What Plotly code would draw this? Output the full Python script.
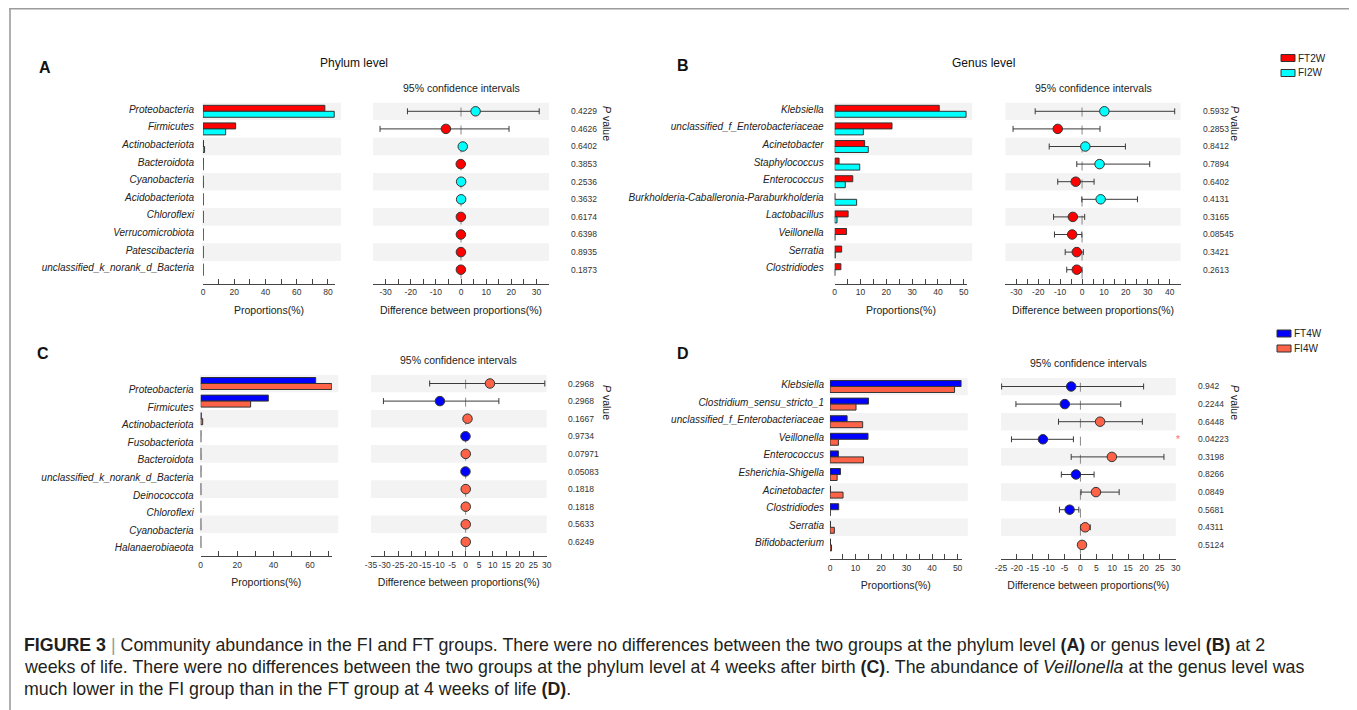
import plotly.graph_objects as go

# page offset: the html body has an 8px margin, so the figure is drawn 8px in and down
OX, OY = 8, 8
W, H = 1357 - OX, 710 - OY

# ---------------- data ----------------
phylum_A = ["Proteobacteria", "Firmicutes", "Actinobacteriota", "Bacteroidota", "Cyanobacteria",
            "Acidobacteriota", "Chloroflexi", "Verrucomicrobiota", "Patescibacteria",
            "unclassified_k_norank_d_Bacteria"]
ft2w_A = [78.0, 20.9, 0.3, 0.1, 0.02, 0.01, 0.03, 0.02, 0.01, 0.02]
fi2w_A = [84.0, 14.5, 1.0, 0.05, 0.1, 0.05, 0.01, 0.01, 0.01, 0.01]
diff_A = [5.8, -6.0, 0.7, -0.1, 0.05, 0.05, -0.05, -0.05, -0.03, -0.05]
lo_A = [-21.3, -32.2, 0.0, -0.25, -0.1, -0.1, -0.15, -0.15, -0.15, -0.15]
hi_A = [31.1, 19.1, 1.4, 0.05, 0.2, 0.2, 0.05, 0.05, 0.1, 0.05]
p_A = ["0.4229", "0.4626", "0.6402", "0.3853", "0.2536", "0.3632", "0.6174", "0.6398", "0.8935", "0.1873"]

genus_B = ["Klebsiella", "unclassified_f_Enterobacteriaceae", "Acinetobacter", "Staphylococcus",
           "Enterococcus", "Burkholderia-Caballeronia-Paraburkholderia", "Lactobacillus",
           "Veillonella", "Serratia", "Clostridiodes"]
ft2w_B = [40.5, 22.2, 11.6, 1.7, 7.0, 0.1, 5.2, 4.6, 2.7, 2.4]
fi2w_B = [50.9, 11.1, 13.0, 9.7, 4.1, 8.5, 0.9, 0.1, 0.2, 0.05]
diff_B = [10.2, -11.1, 1.5, 8.0, -2.9, 8.5, -4.2, -4.5, -2.4, -2.4]
lo_B = [-21.4, -31.5, -15.0, -2.4, -11.1, -0.1, -13.0, -12.6, -7.7, -7.0]
hi_B = [42.3, 8.2, 19.8, 30.9, 5.5, 25.3, 1.2, -0.1, 0.6, 0.0]
p_B = ["0.5932", "0.2853", "0.8412", "0.7894", "0.6402", "0.4131", "0.3165", "0.08545", "0.3421", "0.2613"]

phylum_C = ["Proteobacteria", "Firmicutes", "Actinobacteriota", "Fusobacteriota", "Bacteroidota",
            "unclassified_k_norank_d_Bacteria", "Deinococcota", "Chloroflexi", "Cyanobacteria",
            "Halanaerobiaeota"]
ft4w_C = [63.1, 37.1, 0.3, 0.1, 0.05, 0.1, 0.02, 0.02, 0.01, 0.01]
fi4w_C = [71.9, 27.4, 1.1, 0.05, 0.1, 0.05, 0.05, 0.05, 0.05, 0.05]
diff_C = [9.0, -9.5, 0.7, -0.05, 0.05, -0.05, 0.05, 0.05, 0.05, 0.05]
lo_C = [-13.3, -30.4, 0.0, -0.2, -0.1, -0.2, -0.05, -0.05, -0.05, -0.05]
hi_C = [29.3, 12.3, 1.5, 0.1, 0.2, 0.05, 0.15, 0.15, 0.15, 0.15]
p_C = ["0.2968", "0.2968", "0.1667", "0.9734", "0.07971", "0.05083", "0.1818", "0.1818", "0.5633", "0.6249"]

genus_D = ["Klebsiella", "Clostridium_sensu_stricto_1", "unclassified_f_Enterobacteriaceae",
           "Veillonella", "Enterococcus", "Esherichia-Shigella", "Acinetobacter", "Clostridiodes",
           "Serratia", "Bifidobacterium"]
ft4w_D = [51.4, 15.1, 6.7, 14.9, 3.3, 4.1, 0.2, 3.4, 0.2, 0.2]
fi4w_D = [48.8, 10.2, 12.8, 3.3, 13.1, 2.8, 5.1, 0.1, 1.7, 0.6]
diff_D = [-2.9, -4.9, 6.2, -11.8, 9.9, -1.4, 4.9, -3.4, 1.5, 0.5]
lo_D = [-24.8, -20.3, -6.9, -21.7, -2.9, -6.0, 0.2, -6.6, 0.1, 0.0]
hi_D = [19.9, 12.7, 19.5, -2.2, 26.3, 4.3, 12.2, -0.5, 3.1, 1.0]
p_D = ["0.942", "0.2244", "0.6448", "0.04223", "0.3198", "0.8266", "0.0849", "0.5681", "0.4311", "0.5124"]

# axis ticks
bar_ticks_A = [0, 10, 20, 30, 40, 50, 60, 70, 80]
bar_labels_A = ["0", "", "20", "", "40", "", "60", "", "80"]
bar_ticks_B = [0, 5, 10, 15, 20, 25, 30, 35, 40, 45, 50]
bar_labels_B = ["0", "", "10", "", "20", "", "30", "", "40", "", "50"]
bar_ticks_C = [0, 10, 20, 30, 40, 50, 60, 70]
bar_labels_C = ["0", "", "20", "", "40", "", "60", ""]
bar_ticks_D = [0, 5, 10, 15, 20, 25, 30, 35, 40, 45, 50]
bar_labels_D = ["0", "", "10", "", "20", "", "30", "", "40", "", "50"]
ci_ticks_A = [-35, -30, -25, -20, -15, -10, -5, 0, 5, 10, 15, 20, 25, 30, 35]
ci_labels_A = ["", "-30", "", "-20", "", "-10", "", "0", "", "10", "", "20", "", "30", ""]
ci_ticks_B = [-35, -30, -25, -20, -15, -10, -5, 0, 5, 10, 15, 20, 25, 30, 35, 40, 45]
ci_labels_B = ["", "-30", "", "-20", "", "-10", "", "0", "", "10", "", "20", "", "30", "", "40", ""]
ci_ticks_C = [-35, -30, -25, -20, -15, -10, -5, 0, 5, 10, 15, 20, 25, 30]
ci_labels_C = [str(v) for v in ci_ticks_C]
ci_ticks_D = [-25, -20, -15, -10, -5, 0, 5, 10, 15, 20, 25, 30]
ci_labels_D = [str(v) for v in ci_ticks_D]

# ---------------- style ----------------
FONT = "Liberation Sans, Arial, sans-serif"
RED, CYAN, BLUE, ORANGE = "#FF0000", "#00FFFF", "#0000FF", "#FF6347"
EDGE = "#333333"
BAND = "#F3F3F3"
AXC = "#444444"


def fx(p):
    return (p - OX) / W


def fy(p):
    return 1 - (p - OY) / H


PITCH = 17.6
YLOW, YHIGH = -0.82, 9.5

panels = [
    dict(names=phylum_A, g1=ft2w_A, g2=fi2w_A, n1="FT2W", n2="FI2W", c1=RED, c2=CYAN,
         diff=diff_A, lo=lo_A, hi=hi_A, p=p_A, top=102.5,
         bar_x=(203, 335), bar_range=[0, 84.5], band_end=341, bt=bar_ticks_A, bl=bar_labels_A,
         ci_x=(373, 549), ci_range=[-35, 35], ct=ci_ticks_A, cl=ci_labels_A,
         shift=-2, standoff=8, pval_x=569, pv_label=(607, 123), ci_title=(461, 88),
         legend=None),
    dict(names=genus_B, g1=ft2w_B, g2=fi2w_B, n1="FT2W", n2="FI2W", c1=RED, c2=CYAN,
         diff=diff_B, lo=lo_B, hi=hi_B, p=p_B, top=102.5,
         bar_x=(834.7, 967.1), bar_range=[0, 51.3], band_end=972.3, bt=bar_ticks_B, bl=bar_labels_B,
         ci_x=(1005.4, 1180.6), ci_range=[-35, 45], ct=ci_ticks_B, cl=ci_labels_B,
         shift=-2, standoff=10, pval_x=1200.7, pv_label=(1235, 123), ci_title=(1093, 88),
         legend=(1281, 58)),
    dict(names=phylum_C, g1=ft4w_C, g2=fi4w_C, n1="FT4W", n2="FI4W", c1=BLUE, c2=ORANGE,
         diff=diff_C, lo=lo_C, hi=hi_C, p=p_C, top=374.7,
         bar_x=(200.7, 331.9), bar_range=[0, 72], band_end=338.3, bt=bar_ticks_C, bl=bar_labels_C,
         ci_x=(371, 546.7), ci_range=[-35, 30], ct=ci_ticks_C, cl=ci_labels_C,
         shift=6, standoff=6, pval_x=566, pv_label=(607, 402), ci_title=(458.7, 360),
         legend=None),
    dict(names=genus_D, g1=ft4w_D, g2=fi4w_D, n1="FT4W", n2="FI4W", c1=BLUE, c2=ORANGE,
         diff=diff_D, lo=lo_D, hi=hi_D, p=p_D, top=377.7,
         bar_x=(830, 961.7), bar_range=[0, 51.6], band_end=967.7, bt=bar_ticks_D, bl=bar_labels_D,
         ci_x=(1001, 1175.7), ci_range=[-25, 30], ct=ci_ticks_D, cl=ci_labels_D,
         shift=-2, standoff=5, pval_x=1196, pv_label=(1235, 402), ci_title=(1088, 362.7),
         legend=(1277, 333.5)),
]

fig = go.Figure()
shapes = []
annotations = []
layout = {}

rows = list(range(9, -1, -1))  # row 0 at top

for k, pn in enumerate(panels):
    bi = 2 * k + 1
    ci = 2 * k + 2
    bx = "x" if bi == 1 else f"x{bi}"
    by = "y" if bi == 1 else f"y{bi}"
    cx, cy = f"x{ci}", f"y{ci}"
    top = pn["top"]
    bottom = top + (YHIGH - YLOW) * PITCH
    ydom = [fy(bottom), fy(top)]

    fig.add_trace(go.Bar(x=pn["g1"], y=rows, orientation="h", width=0.34, offset=0,
                         marker=dict(color=pn["c1"], line=dict(color=EDGE, width=1)),
                         name=pn["n1"], showlegend=False, xaxis=bx, yaxis=by, hoverinfo="x+y"))
    fig.add_trace(go.Bar(x=pn["g2"], y=rows, orientation="h", width=0.34, offset=-0.34,
                         marker=dict(color=pn["c2"], line=dict(color=EDGE, width=1)),
                         name=pn["n2"], showlegend=False, xaxis=bx, yaxis=by, hoverinfo="x+y"))
    colors = [pn["c2"] if d > 0 else pn["c1"] for d in pn["diff"]]
    fig.add_trace(go.Scatter(
        x=pn["diff"], y=rows, mode="markers", xaxis=cx, yaxis=cy, showlegend=False,
        marker=dict(color=colors, size=9.5, line=dict(color=EDGE, width=1)),
        error_x=dict(type="data", symmetric=False,
                     array=[h - d for h, d in zip(pn["hi"], pn["diff"])],
                     arrayminus=[d - l for d, l in zip(pn["diff"], pn["lo"])],
                     color="#3a3a3a", thickness=1, width=3)))

    axfont = dict(family=FONT, size=8.5, color="#333")
    layout["xaxis" if bi == 1 else f"xaxis{bi}"] = dict(
        domain=[fx(pn["bar_x"][0]), fx(pn["bar_x"][1])], range=pn["bar_range"], anchor=by,
        showline=True, linecolor=AXC, linewidth=1, ticks="inside", ticklen=5, tickcolor=AXC,
        tickvals=pn["bt"], ticktext=pn["bl"], tickfont=axfont, tickangle=0,
        showgrid=False, zeroline=False,
        title=dict(text="Proportions(%)", font=dict(family=FONT, size=10.5, color="#222"), standoff=10))
    layout["yaxis" if bi == 1 else f"yaxis{bi}"] = dict(
        domain=ydom, range=[YLOW, YHIGH], anchor=bx, showline=False, showgrid=False, zeroline=False,
        tickvals=rows, ticktext=pn["names"], ticks="", ticklabelstandoff=pn["standoff"],
        ticklabelshift=pn["shift"],
        tickfont=dict(family=FONT, size=10, color="#222", style="italic"))
    layout[f"xaxis{ci}"] = dict(
        domain=[fx(pn["ci_x"][0]), fx(pn["ci_x"][1])], range=pn["ci_range"], anchor=cy,
        showline=True, linecolor=AXC, linewidth=1, ticks="inside", ticklen=5, tickcolor=AXC,
        tickvals=pn["ct"], ticktext=pn["cl"], tickfont=axfont, tickangle=0,
        showgrid=False, zeroline=False,
        title=dict(text="Difference between proportions(%)",
                   font=dict(family=FONT, size=10.5, color="#222"), standoff=10))
    layout[f"yaxis{ci}"] = dict(domain=ydom, range=[YLOW, YHIGH], anchor=cx, visible=False)

    for i in range(0, 10, 2):
        yv = rows[i]
        shapes.append(dict(type="rect", layer="below", xref="paper", yref=by,
                           x0=fx(pn["bar_x"][0] - 1), x1=fx(pn["band_end"]),
                           y0=yv - 0.5, y1=yv + 0.5, fillcolor=BAND, line=dict(width=0)))
        shapes.append(dict(type="rect", layer="below", xref=f"{cx} domain", yref=cy,
                           x0=0, x1=1, y0=yv - 0.5, y1=yv + 0.5, fillcolor=BAND, line=dict(width=0)))
    shapes.append(dict(type="line", layer="below", xref=cx, yref=cy, x0=0, x1=0, y0=-0.5, y1=9.5,
                       line=dict(color="#888", width=1, dash="dash")))
    for i, pv in enumerate(pn["p"]):
        annotations.append(dict(text=pv, xref="paper", yref=cy, x=fx(pn["pval_x"]), y=rows[i],
                                xanchor="left", yanchor="middle", showarrow=False,
                                font=dict(family=FONT, size=8.5, color="#333")))
    annotations.append(dict(text="<i>P</i> value", xref="paper", yref="paper",
                            x=fx(pn["pv_label"][0]), y=fy(pn["pv_label"][1]), textangle=90,
                            xanchor="center", yanchor="middle", showarrow=False,
                            font=dict(family=FONT, size=10.5, color="#222")))
    annotations.append(dict(text="95% confidence intervals", xref="paper", yref="paper",
                            x=fx(pn["ci_title"][0]), y=fy(pn["ci_title"][1]),
                            xanchor="center", yanchor="middle", showarrow=False,
                            font=dict(family=FONT, size=10.5, color="#222")))
    # group key (legend)
    if pn["legend"] is not None:
        lx, ly = pn["legend"]
        for j, (nm, col) in enumerate([(pn["n1"], pn["c1"]), (pn["n2"], pn["c2"])]):
            yc = ly + 15 * j
            shapes.append(dict(type="rect", xref="paper", yref="paper",
                               x0=fx(lx), x1=fx(lx + 14), y0=fy(yc + 3.5), y1=fy(yc - 3.5),
                               fillcolor=col, line=dict(color=EDGE, width=1)))
            annotations.append(dict(text=nm, xref="paper", yref="paper", x=fx(lx + 15), y=fy(yc),
                                    xanchor="left", yanchor="middle", showarrow=False,
                                    font=dict(family=FONT, size=10, color="#222")))

for letter, (px, py) in {"A": (45, 67), "B": (683, 66), "C": (43, 353), "D": (683, 353)}.items():
    annotations.append(dict(text=f"<b>{letter}</b>", xref="paper", yref="paper", x=fx(px), y=fy(py),
                            xanchor="center", yanchor="middle", showarrow=False,
                            font=dict(family=FONT, size=16, color="#111")))
for t, (px, py) in {"Phylum level": (354, 63), "Genus level": (983, 63)}.items():
    annotations.append(dict(text=t, xref="paper", yref="paper", x=fx(px), y=fy(py),
                            xanchor="center", yanchor="middle", showarrow=False,
                            font=dict(family=FONT, size=12, color="#111")))
annotations.append(dict(text="*", xref="paper", yref="y8", x=fx(1178), y=rows[3],
                        xanchor="center", yanchor="middle", showarrow=False,
                        font=dict(family=FONT, size=10, color="#FF6666")))

cap = [
    "<b>FIGURE 3</b> <span style='color:#999'>|</span> Community abundance in the FI and FT groups. There were no differences between the two groups at the phylum level <b>(A)</b> or genus level <b>(B)</b> at 2",
    "weeks of life. There were no differences between the two groups at the phylum level at 4 weeks after birth <b>(C)</b>. The abundance of <i>Veillonella</i> at the genus level was",
    "much lower in the FI group than in the FT group at 4 weeks of life <b>(D)</b>.",
]
for i, line in enumerate(cap):
    annotations.append(dict(text=line, xref="paper", yref="paper", x=fx(22), y=fy(645 + 22 * i),
                            xanchor="left", yanchor="middle", showarrow=False,
                            font=dict(family=FONT, size=17.8, color="#231F20")))

# outer frame drawn as thin filled strips: top, left and right edges
FRAMEC = "#9C9C9C"
for x0, x1, y0, y1 in [(9.2, 1353.8, 8.0, 9.6),      # top (as high as the figure allows)
                       (9.2, 10.8, 8.0, 710.0),      # left
                       (1352.2, 1353.8, 8.0, 710.0)]:  # right
    shapes.append(dict(type="rect", xref="paper", yref="paper",
                       x0=fx(x0), x1=fx(x1), y0=fy(y1), y1=fy(y0),
                       fillcolor=FRAMEC, line=dict(width=0), layer="above"))

fig.update_layout(
    width=W, height=H, margin=dict(l=0, r=0, t=0, b=0, autoexpand=False),
    paper_bgcolor="white", plot_bgcolor="rgba(0,0,0,0)",
    barmode="overlay", shapes=shapes, annotations=annotations,
    font=dict(family=FONT, color="#222"), showlegend=False,
    **layout,
)

fig.write_html("out.html")
